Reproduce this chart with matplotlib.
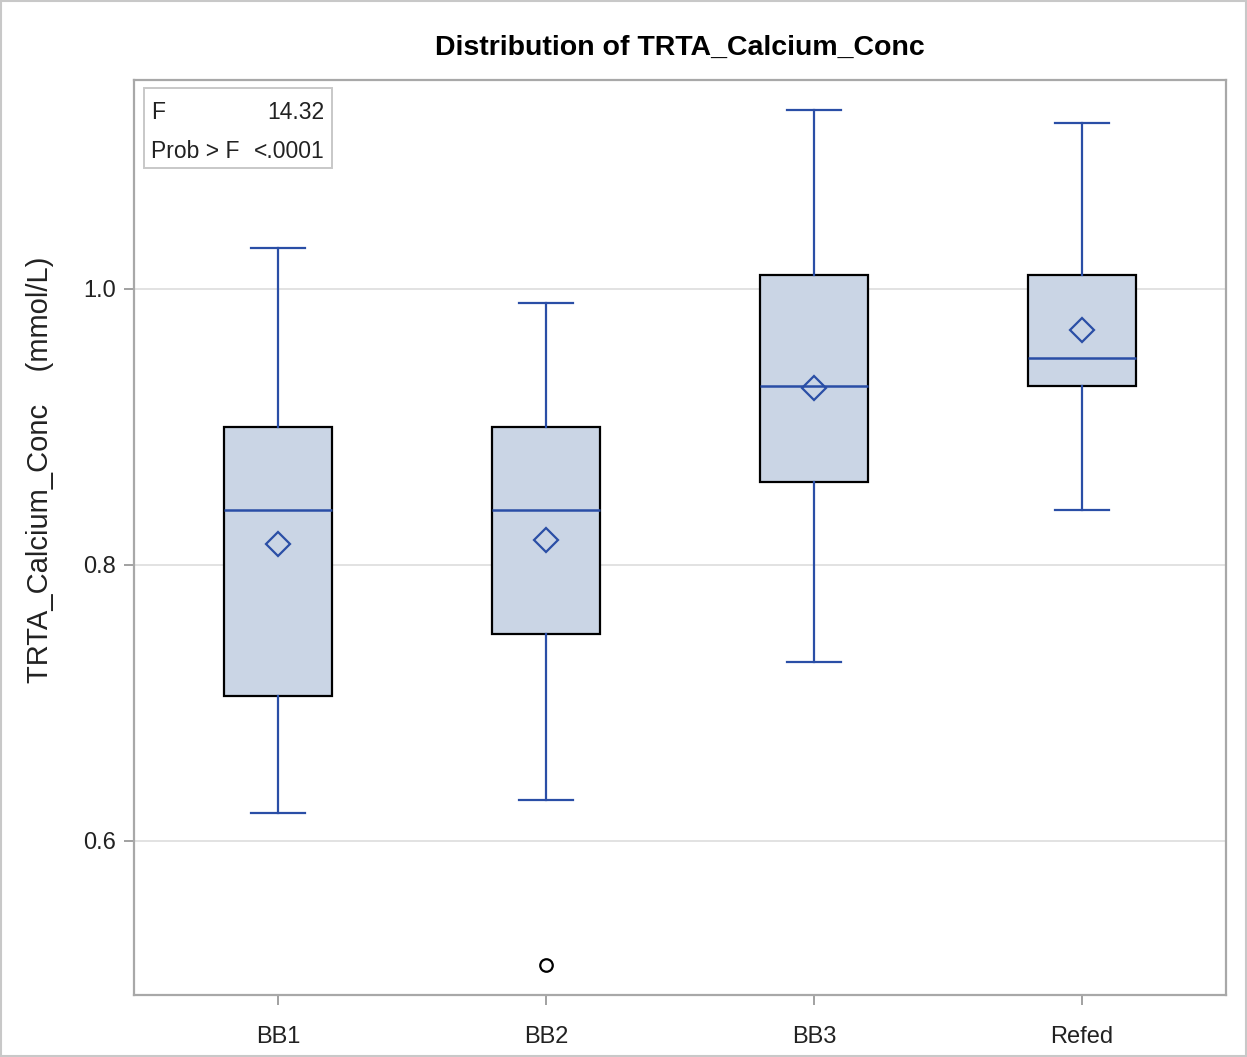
import matplotlib
matplotlib.use("Agg")
import matplotlib.pyplot as plt
from matplotlib.patches import Rectangle

plt.rcParams['font.family'] = ['Liberation Sans', 'DejaVu Sans']

groups = ["BB1", "BB2", "BB3", "Refed"]
whisker_low = [0.62, 0.63, 0.73, 0.84]
q1 = [0.705, 0.75, 0.86, 0.93]
medians = [0.84, 0.84, 0.93, 0.95]
means = [0.815, 0.818, 0.928, 0.97]
q3 = [0.90, 0.90, 1.01, 1.01]
whisker_high = [1.03, 0.99, 1.13, 1.12]
outliers = [[], [0.51], [], []]

f_value = "14.32"
p_value = "<.0001"

blue = "#2A4EA6"
fill = "#CAD5E5"
text_col = "#222222"

stats = []
for i, g in enumerate(groups):
    stats.append(dict(label=g, whislo=whisker_low[i], q1=q1[i], med=medians[i],
                      q3=q3[i], whishi=whisker_high[i], mean=means[i],
                      fliers=outliers[i]))

fig = plt.figure(figsize=(12.47, 10.57), dpi=100)
ax = fig.add_axes([0.1075, 0.0587, 0.8756, 0.8656])

positions = list(range(len(groups)))
ax.bxp(stats, positions=positions, widths=0.403, patch_artist=True,
       showmeans=True, meanline=False, capwidths=0.2,
       boxprops=dict(facecolor=fill, edgecolor="black", linewidth=1.6),
       medianprops=dict(color=blue, linewidth=1.8),
       whiskerprops=dict(color=blue, linewidth=1.6),
       capprops=dict(color=blue, linewidth=1.6),
       meanprops=dict(marker="D", markerfacecolor="none", markeredgecolor=blue,
                      markersize=12, markeredgewidth=1.6),
       flierprops=dict(marker="o", markerfacecolor="none", markeredgecolor="black",
                       markersize=9, markeredgewidth=1.6))

ax.set_xlim(-0.537, 3.537)
ax.set_ylim(0.4884, 1.1514)
ax.set_yticks([0.6, 0.8, 1.0])
ax.set_yticklabels(["0.6", "0.8", "1.0"])
ax.set_xticks(positions)
ax.set_xticklabels(groups)
ax.yaxis.grid(True, color="#E2E2E2", linewidth=1.4, zorder=0)
ax.set_axisbelow(True)
ax.tick_params(axis="both", colors="#9A9A9A", labelcolor=text_col,
               labelsize=17, length=7, width=1.3)
ax.tick_params(axis="x", pad=15)
ax.tick_params(axis="y", pad=6)
for s in ax.spines.values():
    s.set_color("#A8A8A8")
    s.set_linewidth(1.6)

ax.set_ylabel("TRTA_Calcium_Conc    (mmol/L)", fontsize=21, color=text_col)
ax.yaxis.set_label_coords(-0.073, 0.574)
ax.set_title("Distribution of TRTA_Calcium_Conc", fontsize=20.5, fontweight="bold",
             pad=18)

# statistics inset
inset = Rectangle((0.0092, 0.904), 0.172, 0.087, transform=ax.transAxes,
                  facecolor="white", edgecolor="#C8C8C8", linewidth=1.4, zorder=5)
ax.add_patch(inset)
for label, value, y in [("F", f_value, 0.965), ("Prob > F", p_value, 0.922)]:
    ax.text(0.0155, y, label, transform=ax.transAxes, fontsize=16.5, va="center",
            ha="left", zorder=6, color=text_col)
    ax.text(0.1745, y, value, transform=ax.transAxes, fontsize=16.5, va="center",
            ha="right", zorder=6, color=text_col)

# thin outer frame
fig.patches.append(Rectangle((0.001, 0.001), 0.998, 0.998, transform=fig.transFigure,
                             fill=False, edgecolor="#C8C8C8", linewidth=1.5))

fig.savefig("out.png", dpi=100)
